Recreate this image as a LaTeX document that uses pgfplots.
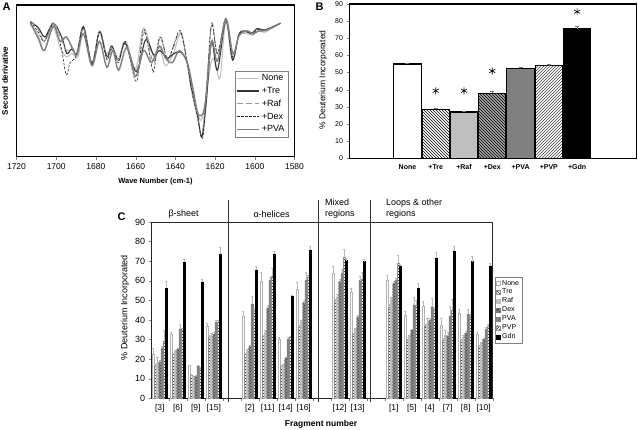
\documentclass[border=0pt]{standalone}
\usepackage{fontspec}
\setmainfont{Liberation Sans}
\usepackage{pgfplots}
\usepackage{pgfplotstable}
\pgfplotsset{compat=1.18}
\usetikzlibrary{patterns}

% ---------- Panel C data ----------
\pgfplotstableread{
x None eN Tre eT Raf eR Dex eD PVA eP PVP eV Gdn eG
0 22.7 2.8 16.5 1.0 18.2 2.8 18.7 1.0 25.5 1.0 29.0 5.6 56.2 3.4
1 32.9 0.8 22.7 0.5 23.9 0.5 25.0 0.8 35.4 2.6 34.6 1.0 69.5 1.5
2 16.7 0.3 11.6 0.5 10.6 0.5 11.1 0.5 16.5 0.5 15.3 0.5 59.5 1.5
3 37.0 1.3 31.0 1.0 32.0 1.0 32.7 1.0 38.7 1.0 38.7 1.0 73.5 3.5
5 41.7 2.9 22.7 0.5 24.2 0.8 26.4 0.8 48.2 3.8 44.3 1.0 65.5 2.0
6 60.0 4.2 31.9 0.5 33.7 1.2 46.3 1.0 60.5 1.5 62.2 4.2 73.6 1.4
7 30.2 0.8 16.2 0.5 16.7 0.5 20.4 0.5 30.2 0.8 31.2 0.5 52.0 0.5
8 55.9 3.4 36.3 1.0 38.7 1.0 48.9 1.0 60.5 3.9 61.7 1.0 75.8 1.7
10 63.9 3.7 49.4 1.0 51.9 1.0 59.6 1.0 63.9 2.0 72.0 4.0 70.3 1.0
11 54.0 2.2 32.9 0.5 35.2 0.5 41.7 0.8 60.1 2.0 60.8 3.6 69.8 1.0
13 60.5 2.5 46.8 1.0 50.6 1.0 58.7 1.0 60.5 1.0 69.0 4.3 67.3 1.0
14 42.6 2.0 29.8 0.5 31.8 0.5 34.9 0.5 47.7 3.7 47.7 2.3 56.2 2.6
15 46.8 2.6 36.9 1.0 38.3 2.5 40.0 1.0 46.8 4.3 45.1 1.0 71.6 2.8
16 37.5 3.4 29.8 1.0 32.4 2.5 31.9 2.0 42.1 4.7 45.1 5.5 75.0 2.5
17 43.4 2.1 29.5 0.5 31.2 1.0 33.2 1.0 43.1 2.4 41.7 1.0 69.8 2.6
18 32.9 0.8 26.4 0.5 28.1 0.5 30.1 0.5 35.3 1.0 37.0 1.0 67.6 1.4
}\fragtab

% ---------- Panel A spectra ----------
\pgfplotstableread{
wn val
1713 88
1709 80
1706 70
1702 86
1698 72
1695 66
1692 68
1689 66
1686 85
1682 62
1678 83
1675 68
1672 72
1669 64
1665 76
1660 58
1656 85
1651 66
1648 72
1645 60
1641 68
1637 82
1634 60
1631 45
1629 30
1627 24
1625 35
1622 62
1620 63
1617.5 52
1614.6 89
1611 66
1608 80
1604 81
1601 80
1598 83
1595 82
1587 88
}\specNone

\pgfplotstableread{
wn val
1713 89
1709 85
1705.7 79
1701.4 88
1697 78
1694.7 68
1692.2 71
1689.6 68
1686.3 85.7
1682 61.5
1678.2 82.4
1674.5 66
1672 73
1668.6 63.7
1665.2 74.7
1659.6 56
1655 77
1650.8 67
1647.8 70
1644 65
1640.7 68
1637.3 69
1634 62
1632.3 48
1628.9 28
1626.7 13
1624.5 35
1621.8 75.8
1618.8 57
1614.6 90
1611.2 63.7
1607.8 81.3
1603.6 82.4
1601.9 81
1598.5 84.6
1595.2 83.5
1587 88
}\specTre

\pgfplotstableread{
wn val
1713 89
1709 84
1706 76
1701.4 88
1697 76
1694.7 70
1692 72
1689.6 69
1686.3 85
1682 62
1678.2 82
1674.5 65
1672 72
1668.6 64
1665.2 76
1659.6 57
1655.5 82
1651 62
1647.5 79
1644 64
1641 72
1637.5 82
1634 62
1632 45
1629 27
1626.7 15
1624.5 40
1621.8 88
1618.8 68
1614.6 90
1611 65
1607.8 81
1603.6 82
1601 81
1598 84
1595 83
1587 88
}\specRaf

\pgfplotstableread{
wn val
1713 89
1709 82
1706 76
1701.4 87
1697.5 72
1695 54
1693 62
1689.6 67
1686.3 85
1682 60
1678.2 82
1674.5 64
1672 71
1668.6 62
1665.2 76
1659.6 49.5
1656 84
1652 60
1650.8 57
1647.8 79
1644 64
1641 73
1637.5 83
1634 62
1632 45
1629 27
1626.3 12
1624.5 40
1621.8 87
1618.8 68
1614.6 91
1611 65
1607.8 81
1603.6 82
1601 81
1598 84
1595 83
1587 88
}\specDex

\pgfplotstableread{
wn val
1713 88
1709 78
1706 70
1701.4 86
1698 76
1695 79
1692 72
1689.6 67
1686.3 81
1682 60
1678.2 76
1674.5 59
1671.5 70
1668.6 57
1664.5 72
1660 53
1656 70
1652 62
1648 73
1645 65
1641.5 62
1638 70
1634 62
1631.5 47
1629 30
1627 27
1625 35
1621.8 76
1618.8 63
1614.6 91
1611 68
1607.8 80
1603.6 83
1601 81
1598 83
1595 83
1587 88
}\specPVA

\pgfplotsset{
  bbar/.style={ybar, bar width=27.5pt, bar shift=0pt, draw=black, line width=1.1pt,
    /pgfplots/error bars/y dir=plus, /pgfplots/error bars/y explicit,
    /pgfplots/error bars/error bar style={black!55, line width=0.5pt},
    /pgfplots/error bars/error mark options={black!55, rotate=90, mark size=2pt, line width=0.5pt}},
  cbar/.style={
    /pgfplots/error bars/y dir=plus, /pgfplots/error bars/y explicit,
    /pgfplots/error bars/error bar style={black!28, line width=0.4pt},
    /pgfplots/error bars/error mark options={black!28, rotate=90, mark size=1.1pt, line width=0.4pt}},
}

\begin{document}
\begin{tikzpicture}
\useasboundingbox (0pt,0pt) rectangle (638pt,-430pt);

% ================= Panel A =================
\begin{axis}[
  at={(16.5pt,-156.7pt)}, anchor=south west, scale only axis,
  width=278pt, height=151.7pt,
  xmin=1580, xmax=1720, x dir=reverse, ymin=0, ymax=100,
  xtick={1580,1600,...,1720}, ytick=\empty,
  /pgf/number format/assume math mode=true,
  /pgf/number format/set thousands separator={},
  tick align=outside, tick pos=left, major tick length=3pt,
  axis line style={line width=1.2pt},
  xticklabel style={font=\fontsize{8.5}{9}\selectfont},
  xlabel={\textbf{Wave Number (cm-1)}},
  xlabel style={font=\fontsize{7.5}{9}\selectfont, at={(axis description cs:0.5,-0.165)}, anchor=center},
  ylabel={\textbf{Second derivative}},
  ylabel style={font=\fontsize{8}{9}\selectfont, at={(axis description cs:-0.041,0.5)}, anchor=center},
  legend style={at={(0.977,0.13)}, anchor=south east, font=\fontsize{9}{10}\selectfont,
    draw=black!50, inner sep=1.5pt, row sep=1pt, cells={anchor=west}},
  legend image code/.code={\draw[#1] (0pt,0pt) -- (22pt,0pt);},
]
\addplot[smooth, tension=0.55, black!25, line width=1pt] table {\specNone};
\addlegendentry{None}
\addplot[smooth, tension=0.55, black!80, line width=1.1pt] table {\specTre};
\addlegendentry{+Tre}
\addplot[smooth, tension=0.55, black!40, line width=1pt, dash pattern=on 6pt off 3pt] table {\specRaf};
\addlegendentry{+Raf}
\addplot[smooth, tension=0.55, black!85, line width=0.6pt, dash pattern=on 2.5pt off 1.5pt] table {\specDex};
\addlegendentry{+Dex}
\addplot[smooth, tension=0.55, black!50, line width=1.4pt] table {\specPVA};
\addlegendentry{+PVA}
\end{axis}

% ================= Panel B =================
\begin{axis}[
  at={(349.5pt,-158.3pt)}, anchor=south west, scale only axis,
  width=287pt, height=154.3pt,
  xmin=-2.05, xmax=8.1, ymin=0, ymax=90,
  xtick={0,...,6}, xticklabels={None,+Tre,+Raf,+Dex,+PVA,+PVP,+Gdn},
  ytick={0,10,...,90},
  /pgf/number format/assume math mode=true,
  tick align=outside, tick pos=left, major tick length=3pt,
  every major x tick/.append style={draw=none},
  axis line style={line width=1.1pt},
  xticklabel style={font=\fontsize{7}{8}\selectfont\bfseries},
  yticklabel style={font=\fontsize{7}{8}\selectfont},
  ylabel={\% Deuterium Incorporated},
  ylabel style={font=\fontsize{8.5}{9}\selectfont, at={(axis description cs:-0.092,0.507)}, anchor=center},
  clip=false,
]
\addplot[bbar, fill=white] coordinates {(0,55.0) +- (0,0.6)};
\addplot[bbar, fill=white, postaction={pattern=north west lines}] coordinates {(1,28.5) +- (0,0.8)};
\addplot[bbar, fill=black!25] coordinates {(2,27.0) +- (0,0.6)};
\addplot[bbar, fill=black!35, postaction={pattern=north west lines}] coordinates {(3,38.0) +- (0,0.9)};
\addplot[bbar, fill=black!50] coordinates {(4,52.5) +- (0,0.6)};
\addplot[bbar, fill=white, postaction={pattern=north east lines, pattern color=black!75}] coordinates {(5,54.0) +- (0,0.6)};
\addplot[bbar, fill=black] coordinates {(6,75.7) +- (0,1.6)};
\addplot[only marks, mark=asterisk, mark size=3.5pt, black, mark options={line width=0.6pt}]
  coordinates {(1,39.4) (2,39.4) (3,50.9) (6,85.5)};
\end{axis}

% ================= Panel C =================
\begin{axis}[
  at={(151.7pt,-398.3pt)}, anchor=south west, scale only axis,
  width=341pt, height=176.3pt,
  xmin=-0.45, xmax=18.5, ymin=0, ymax=90,
  ybar=0pt, bar width=2.2pt,
  xtick={0,1,2,3,5,6,7,8,10,11,13,14,15,16,17,18},
  xticklabels={{[3]},{[6]},{[9]},{[15]},{[2]},{[11]},{[14]},{[16]},{[12]},{[13]},{[1]},{[5]},{[4]},{[7]},{[8]},{[10]}},
  minor xtick={-0.5,0.5,...,18.5},
  ytick={0,10,...,90},
  /pgf/number format/assume math mode=true,
  tick align=outside, tick pos=left, major tick length=3pt, minor tick length=3pt,
  every major x tick/.append style={draw=none},
  axis line style={line width=0.6pt, black!85},
  xticklabel style={font=\fontsize{8.5}{9}\selectfont},
  yticklabel style={font=\fontsize{9}{10}\selectfont},
  xlabel={\textbf{Fragment number}},
  xlabel style={font=\fontsize{8.5}{9}\selectfont, at={(axis description cs:0.4965,-0.146)}, anchor=center},
  ylabel={\% Deuterium Incorporated},
  ylabel style={font=\fontsize{9}{10}\selectfont, at={(axis description cs:-0.078,0.514)}, anchor=center},
  clip=false,
  legend style={at={(1.006,0.5)}, anchor=west, font=\fontsize{7}{8}\selectfont,
    draw=black!50, inner sep=1pt, row sep=-1.5pt, cells={anchor=west}},
  legend image code/.code={\draw[#1] (0pt,-2pt) rectangle (4pt,2pt);},
]
\addplot[cbar, fill=white, draw=black!30, line width=0.3pt] table[x=x, y=None, y error=eN] {\fragtab};
\addlegendentry{None}
\addplot[cbar, fill=white, draw=black!45, line width=0.2pt, postaction={pattern=north west lines, pattern color=black!85}] table[x=x, y=Tre, y error=eT] {\fragtab};
\addlegendentry{Tre}
\addplot[cbar, fill=black!25, draw=black!25, line width=0.2pt] table[x=x, y=Raf, y error=eR] {\fragtab};
\addlegendentry{Raf}
\addplot[cbar, fill=black!40, draw=black!55, line width=0.2pt, postaction={pattern=crosshatch, pattern color=black!75}] table[x=x, y=Dex, y error=eD] {\fragtab};
\addlegendentry{Dex}
\addplot[cbar, fill=black!50, draw=black!50, line width=0.2pt] table[x=x, y=PVA, y error=eP] {\fragtab};
\addlegendentry{PVA}
\addplot[cbar, fill=white, draw=black!45, line width=0.2pt, postaction={pattern=north east lines, pattern color=black!85}] table[x=x, y=PVP, y error=eV] {\fragtab};
\addlegendentry{PVP}
\addplot[cbar, fill=black, draw=black, line width=0.2pt] table[x=x, y=Gdn, y error=eG] {\fragtab};
\addlegendentry{Gdn}
\draw[line width=0.8pt, black!80] (axis cs:3.82,-1.7) -- (axis cs:3.82,101.2);
\draw[line width=0.8pt, black!80] (axis cs:8.81,-1.7) -- (axis cs:8.81,101.2);
\draw[line width=0.8pt, black!80] (axis cs:11.72,-1.7) -- (axis cs:11.72,101.2);
\end{axis}

% ---------- panel letters and group labels ----------
\node[font=\fontsize{11}{12}\selectfont\bfseries] at (6.5pt,-6.7pt) {A};
\node[font=\fontsize{11}{12}\selectfont\bfseries] at (319.5pt,-7pt) {B};
\node[font=\fontsize{11}{12}\selectfont\bfseries] at (121.5pt,-217pt) {C};
\node[anchor=west, font=\fontsize{9}{10}\selectfont] at (165pt,-214pt) {β-sheet};
\node[anchor=west, font=\fontsize{9}{10}\selectfont] at (250pt,-214pt) {α-helices};
\node[anchor=north west, align=left, inner sep=0pt, font=\fontsize{9}{11}\selectfont] at (325pt,-199pt) {Mixed\\regions};
\node[anchor=north west, align=left, inner sep=0pt, font=\fontsize{9}{11}\selectfont] at (386pt,-199pt) {Loops \& other\\regions};
\end{tikzpicture}
\end{document}
